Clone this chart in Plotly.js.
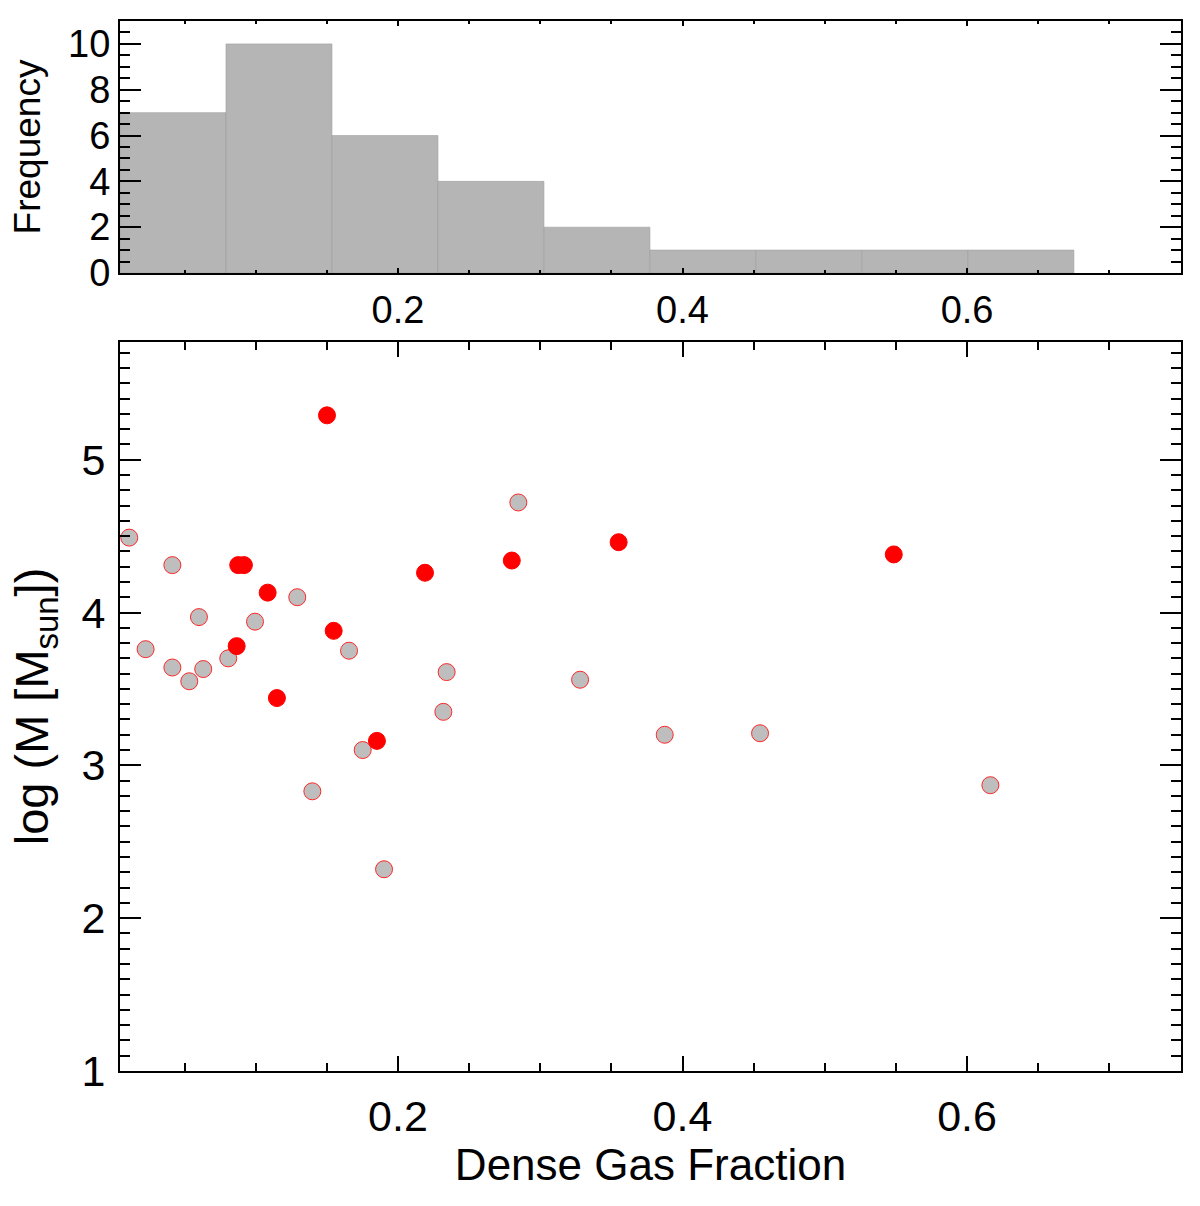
<!DOCTYPE html>
<html>
<head>
<meta charset="utf-8">
<script src="https://cdn.plot.ly/plotly-3.0.1.min.js"></script>
<style>html,body{margin:0;padding:0;background:#fff;}</style>
</head>
<body>
<div id="chart" style="width:1200px;height:1206px;"></div>
<script>
// Dense gas fraction vs log mass — grey sample
const greyFraction = [0.0111, 0.0226, 0.0414, 0.0414, 0.0533, 0.0601, 0.0631, 0.0807, 0.0995, 0.1292,
                      0.1398, 0.1656, 0.1752, 0.1902, 0.2319, 0.2342, 0.2846, 0.3280, 0.3875, 0.4545, 0.6164];
const greyLogMass  = [4.49, 3.76, 4.31, 3.64, 3.55, 3.97, 3.63, 3.70, 3.94, 4.10,
                      2.83, 3.75, 3.10, 2.32, 3.35, 3.61, 4.72, 3.56, 3.20, 3.21, 2.87];
// red sample
const redFraction = [0.0866, 0.0877, 0.0917, 0.1084, 0.1149, 0.1501, 0.1548, 0.1852, 0.2190, 0.2800, 0.3551, 0.5485];
const redLogMass  = [3.78, 4.31, 4.31, 4.13, 3.44, 5.29, 3.88, 3.16, 4.26, 4.34, 4.46, 4.38];
// histogram binning
const binStart = 0.0046;
const binEnd = 0.6751;
const binSize = 0.0745;
const xRange = [0.0046, 0.7504];
const yRange = [1.0, 5.77];
const freqRange = [0, 11];
const xTickVals = [0.2, 0.4, 0.6];
const xTickText = ['0.2', '0.4', '0.6'];
const yTickVals = [1, 2, 3, 4, 5];
const yTickText = ['1', '2', '3', '4', '5'];
const freqTickVals = [0, 2, 4, 6, 8, 10];
const freqTickText = ['0', '2', '4', '6', '8', '10'];

const allFraction = greyFraction.concat(redFraction);
const FONT = 'Liberation Sans, Arial, Helvetica, sans-serif';

const traces = [
  {
    type: 'histogram', x: allFraction, xaxis: 'x2', yaxis: 'y2',
    xbins: {start: binStart, end: binEnd, size: binSize},
    marker: {color: 'rgb(181,181,181)', line: {color: 'rgb(160,160,160)', width: 0.6}},
    hoverinfo: 'skip'
  },
  {
    type: 'scatter', mode: 'markers', x: greyFraction, y: greyLogMass, xaxis: 'x', yaxis: 'y',
    marker: {size: 17, color: 'rgb(190,190,190)', line: {color: 'rgb(255,40,40)', width: 1}}
  },
  {
    type: 'scatter', mode: 'markers', x: redFraction, y: redLogMass, xaxis: 'x', yaxis: 'y',
    marker: {size: 17, color: 'rgb(255,0,0)', line: {color: 'rgb(255,0,0)', width: 1}}
  }
];

const axCommon = {
  showline: true, linecolor: '#000', linewidth: 2, mirror: 'allticks',
  ticks: 'inside', tickcolor: '#000', tickwidth: 2,
  showgrid: false, zeroline: false, fixedrange: true
};

const layout = {
  width: 1200, height: 1206,
  margin: {l: 120, r: 19, t: 21, b: 135, pad: 0},
  paper_bgcolor: '#fff', plot_bgcolor: '#fff',
  showlegend: false, bargap: 0,
  font: {family: FONT, color: '#000'},
  xaxis: Object.assign({}, axCommon, {
    domain: [0, 1], anchor: 'y', range: xRange,
    tickvals: xTickVals, ticktext: xTickText, ticklen: 15,
    minor: {ticks: 'inside', dtick: 0.05, tick0: 0, ticklen: 8, tickwidth: 2, tickcolor: '#000'},
    tickfont: {size: 43, family: FONT}, ticklabelstandoff: 6,
    title: {text: 'Dense Gas Fraction', font: {size: 44, family: FONT}, standoff: 0}
  }),
  yaxis: Object.assign({}, axCommon, {
    domain: [0, 0.6943], anchor: 'x', range: yRange,
    tickvals: yTickVals, ticktext: yTickText, ticklen: 21,
    minor: {ticks: 'inside', dtick: 0.1, tick0: 0, ticklen: 10, tickwidth: 2, tickcolor: '#000'},
    tickfont: {size: 43, family: FONT}, ticklabelstandoff: 4,
    title: {text: 'log (M [M<sub>sun</sub>])', font: {size: 47, family: FONT}, standoff: 18}
  }),
  xaxis2: Object.assign({}, axCommon, {
    domain: [0, 1], anchor: 'y2', range: xRange,
    tickvals: xTickVals, ticktext: xTickText, ticklen: 5,
    minor: {ticks: 'inside', dtick: 0.05, tick0: 0, ticklen: 3, tickwidth: 2, tickcolor: '#000'},
    tickfont: {size: 38, family: FONT}, ticklabelstandoff: 2
  }),
  yaxis2: Object.assign({}, axCommon, {
    domain: [0.76, 1], anchor: 'x2', range: freqRange,
    tickvals: freqTickVals, ticktext: freqTickText, ticklen: 21,
    minor: {ticks: 'inside', dtick: 0.5, tick0: 0, ticklen: 10, tickwidth: 2, tickcolor: '#000'},
    tickfont: {size: 38, family: FONT}, ticklabelstandoff: 0,
    title: {text: 'Frequency', font: {size: 37, family: FONT}, standoff: 16}
  })
};

Plotly.newPlot('chart', traces, layout, {displayModeBar: false, staticPlot: true});
</script>
</body>
</html>
